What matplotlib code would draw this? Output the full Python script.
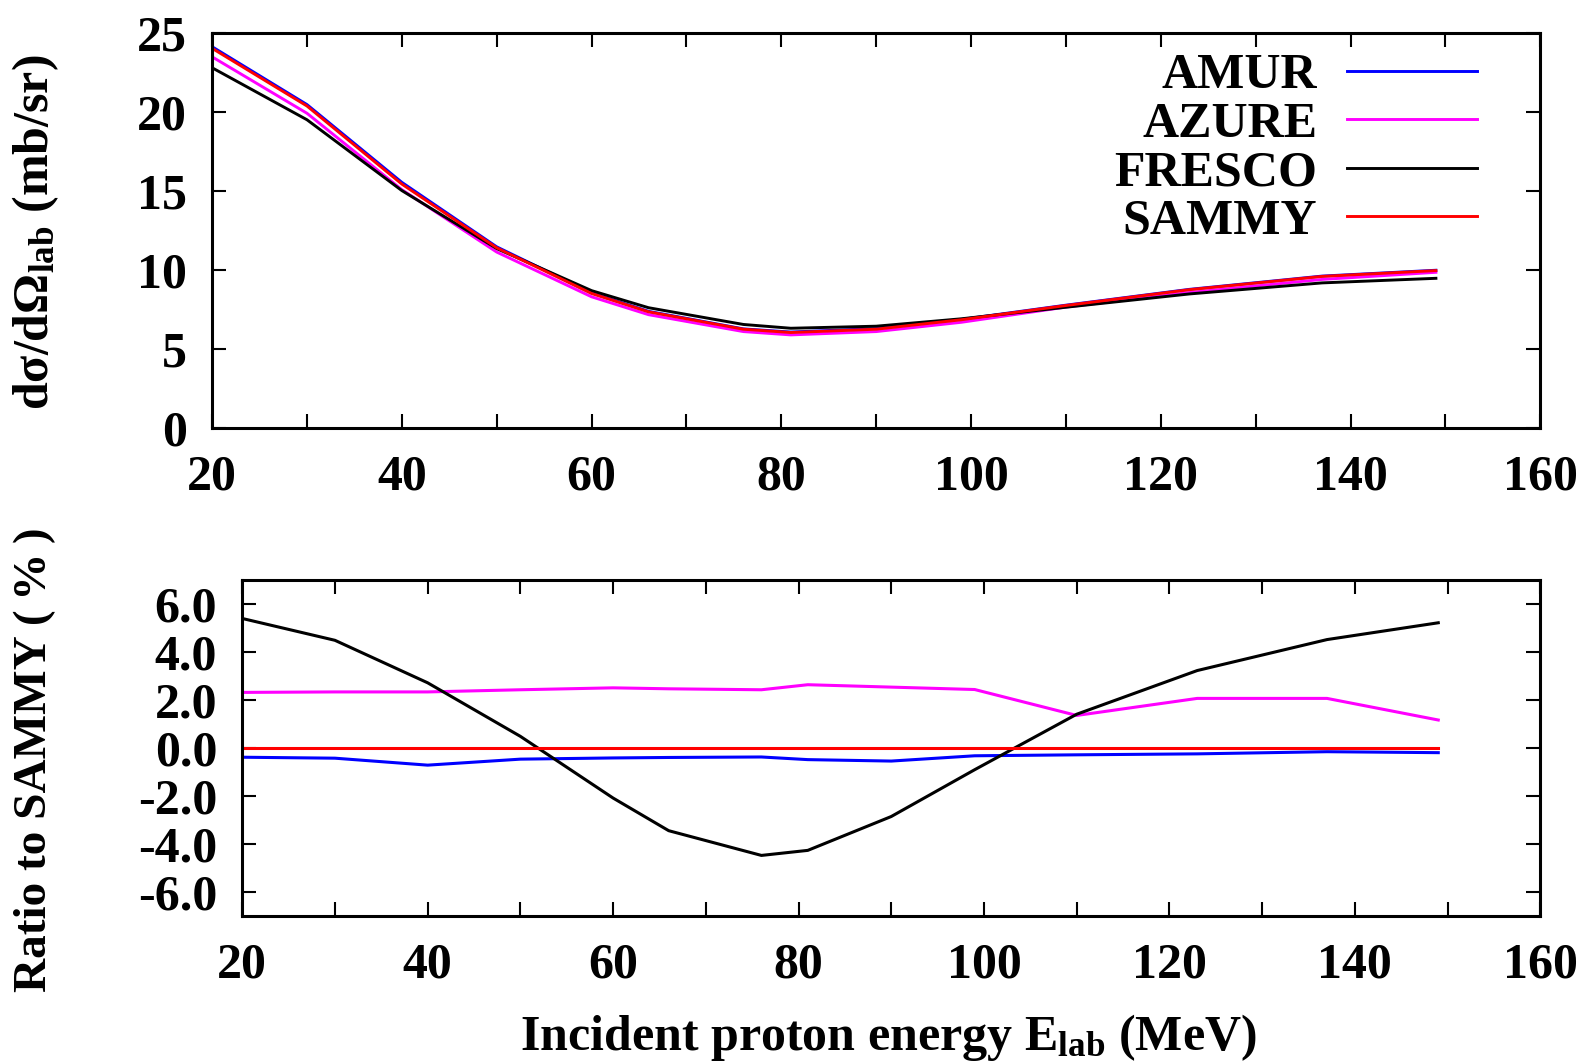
import numpy as np
import matplotlib
matplotlib.use("Agg")
import matplotlib.pyplot as plt
from matplotlib.ticker import MultipleLocator, FormatStrFormatter

# energies (MeV)
energy = [20, 30, 40, 50, 60, 66, 76, 81, 90, 99, 110, 123, 137, 149]

# cross sections (mb/sr)
amur = [24.15, 20.49, 15.57, 11.49, 8.58, 7.41, 6.30, 6.10, 6.32, 6.90, 7.80, 8.80, 9.64, 10.01]
azure = [23.51, 19.94, 15.11, 11.16, 8.33, 7.20, 6.13, 5.92, 6.13, 6.72, 7.68, 8.60, 9.43, 9.88]
fresco = [22.82, 19.53, 15.05, 11.38, 8.72, 7.64, 6.58, 6.34, 6.47, 6.94, 7.67, 8.51, 9.21, 9.50]
sammy = [24.05, 20.40, 15.46, 11.43, 8.54, 7.38, 6.28, 6.07, 6.28, 6.88, 7.78, 8.78, 9.62, 9.99]

# ratio to SAMMY (%)
amur_ratio = [-0.40, -0.44, -0.73, -0.48, -0.43, -0.41, -0.39, -0.50, -0.56, -0.34, -0.30, -0.26, -0.17, -0.21]
azure_ratio = [2.30, 2.32, 2.32, 2.41, 2.49, 2.45, 2.41, 2.62, 2.52, 2.42, 1.34, 2.05, 2.05, 1.15]
fresco_ratio = [5.38, 4.47, 2.70, 0.47, -2.10, -3.46, -4.49, -4.28, -2.87, -0.92, 1.39, 3.21, 4.50, 5.20]
sammy_ratio = [0.0] * len(energy)

names = ["AMUR", "AZURE", "FRESCO", "SAMMY"]
colors = ["#0000ff", "#ff00ff", "#000000", "#ff0000"]

plt.rcParams["font.family"] = "Liberation Serif"
plt.rcParams["font.weight"] = "bold"
plt.rcParams["mathtext.fontset"] = "custom"
plt.rcParams["mathtext.rm"] = "Liberation Serif:bold"
plt.rcParams["mathtext.bf"] = "Liberation Serif:bold"
plt.rcParams["mathtext.it"] = "Liberation Serif:italic:bold"

fs = 36
fig = plt.figure(figsize=(15.83, 10.64), dpi=100)
ax1 = fig.add_axes([0.134, 0.5973, 0.839, 0.3714])
ax2 = fig.add_axes([0.153, 0.1394, 0.820, 0.3159])

for ys, name, c in zip([amur, azure, fresco, sammy], names, colors):
    ax1.plot(energy, ys, color=c, lw=2.1, label=name)
for ys, c in zip([amur_ratio, azure_ratio, fresco_ratio, sammy_ratio], colors):
    ax2.plot(energy, ys, color=c, lw=2.2)

ax1.set_xlim(20, 160)
ax1.set_ylim(0, 25)
ax1.yaxis.set_major_locator(MultipleLocator(5))
ax2.set_xlim(20, 160)
ax2.set_ylim(-7, 7)
ax2.yaxis.set_major_locator(MultipleLocator(2))
ax2.yaxis.set_major_formatter(FormatStrFormatter("%.1f"))

for ax in (ax1, ax2):
    ax.xaxis.set_major_locator(MultipleLocator(20))
    ax.xaxis.set_minor_locator(MultipleLocator(10))
    ax.tick_params(which="both", direction="in", top=True, right=True,
                   length=10, width=1.5, labelsize=fs, pad=19)
    ax.tick_params(axis="y", pad=18)
    for s in ax.spines.values():
        s.set_linewidth(2.2)
    for lab in ax.get_xticklabels() + ax.get_yticklabels():
        lab.set_fontweight("bold")

leg = ax1.legend(loc="upper right", bbox_to_anchor=(0.975, 1.025), frameon=False,
                 markerfirst=False, fontsize=fs, handlelength=2.6,
                 handletextpad=0.6, labelspacing=0.05, borderaxespad=0.2)
for t in leg.get_texts():
    t.set_ha("right")
leg._legend_box.align = "right"

fig.text(0.0223, 0.782, "dσ/dΩ$_{\\mathrm{lab}}$ (mb/sr)", rotation=90,
         ha="center", va="center", fontsize=fs, fontweight="bold")
fig.text(0.0223, 0.286, "Ratio to SAMMY (\u2009%\u2009)", rotation=90,
         ha="center", va="center", fontsize=34, fontweight="bold")
fig.text(0.561, 0.025, "Incident proton energy E$_{\\mathrm{lab}}$ (MeV)",
         ha="center", va="center", fontsize=fs, fontweight="bold")

fig.savefig("out.png", dpi=100)
